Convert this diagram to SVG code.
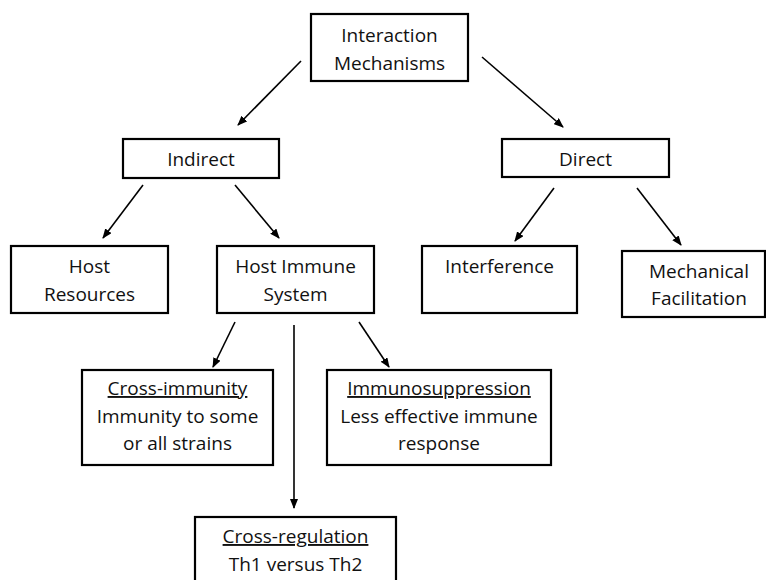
<svg xmlns="http://www.w3.org/2000/svg" width="766" height="580" viewBox="0 0 766 580">
<defs>
<marker id="ah" markerWidth="10" markerHeight="8" refX="9" refY="4" orient="auto" markerUnits="userSpaceOnUse">
<path d="M0,0 L10,4 L0,8 Z" fill="#000"/>
</marker>
<style>
.box{fill:#fff;stroke:#000;stroke-width:2.2}
.t{font-family:"Open Sans","Liberation Sans",sans-serif;font-size:19px;fill:#111;text-anchor:middle}
.u{text-decoration:underline}
.c{stroke:#000;stroke-width:1.6;fill:none;marker-end:url(#ah)}
</style>
</defs>
<rect width="766" height="580" fill="#fff"/>
<g id="connectors">
<line class="c" x1="301" y1="61" x2="238" y2="125"/>
<line class="c" x1="482" y1="57" x2="563" y2="127"/>
<line class="c" x1="143" y1="185" x2="103" y2="238"/>
<line class="c" x1="235" y1="185" x2="279" y2="238"/>
<line class="c" x1="554" y1="188" x2="515" y2="241"/>
<line class="c" x1="637" y1="188" x2="681" y2="245"/>
<line class="c" x1="235" y1="322" x2="213" y2="367"/>
<line class="c" x1="294" y1="325" x2="294" y2="508"/>
<line class="c" x1="359" y1="322" x2="389" y2="367"/>
</g>
<g id="interaction">
<rect class="box" x="311" y="14" width="157" height="67"/>
<text class="t" x="389.5" y="42">Interaction</text>
<text class="t" x="389.5" y="70">Mechanisms</text>
</g>
<g id="indirect">
<rect class="box" x="123" y="139" width="156" height="39"/>
<text class="t" x="201" y="166">Indirect</text>
</g>
<g id="direct">
<rect class="box" x="502" y="139" width="167" height="38"/>
<text class="t" x="585.5" y="166">Direct</text>
</g>
<g id="host-resources">
<rect class="box" x="11" y="246" width="157" height="67"/>
<text class="t" x="89.5" y="273">Host</text>
<text class="t" x="89.5" y="301">Resources</text>
</g>
<g id="host-immune">
<rect class="box" x="217" y="246" width="157" height="67"/>
<text class="t" x="295.5" y="273">Host Immune</text>
<text class="t" x="295.5" y="301">System</text>
</g>
<g id="interference">
<rect class="box" x="422" y="246" width="155" height="67"/>
<text class="t" x="499.5" y="273">Interference</text>
</g>
<g id="mechanical">
<rect class="box" x="622" y="251" width="143" height="66"/>
<text class="t" x="699" y="278">Mechanical</text>
<text class="t" x="699" y="305">Facilitation</text>
</g>
<g id="cross-immunity">
<rect class="box" x="82" y="370" width="191" height="95"/>
<text class="t u" x="177.5" y="395">Cross-immunity</text>
<text class="t" x="177.5" y="423">Immunity to some</text>
<text class="t" x="177.5" y="450">or all strains</text>
</g>
<g id="immunosuppression">
<rect class="box" x="327" y="370" width="224" height="95"/>
<text class="t u" x="439" y="395">Immunosuppression</text>
<text class="t" x="439" y="423">Less effective immune</text>
<text class="t" x="439" y="450">response</text>
</g>
<g id="cross-regulation">
<rect class="box" x="195" y="517" width="201" height="80"/>
<text class="t u" x="295.5" y="543">Cross-regulation</text>
<text class="t" x="295.5" y="571">Th1 versus Th2</text>
</g>
</svg>
